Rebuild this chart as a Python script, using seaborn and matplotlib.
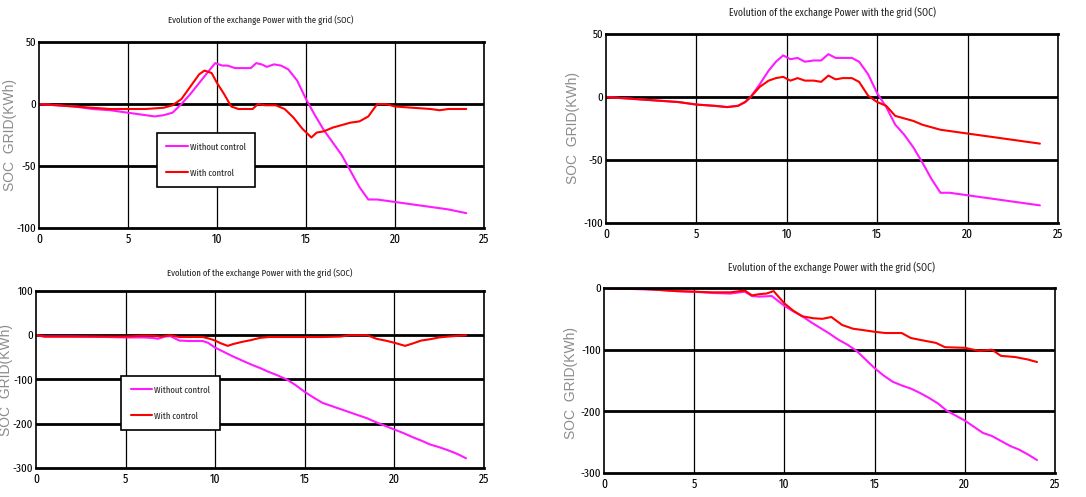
import numpy as np
import pandas as pd
import matplotlib
matplotlib.use("Agg")
import matplotlib.pyplot as plt
import seaborn as sns

# ---------------- data ----------------
title = "Evolution of the exchange Power with the grid (SOC)"
ylabel = "SOC  GRID(KWh)"
series_names = ["Without control", "With control"]

p1_without_t = [0, 1, 2, 3, 4, 5, 6, 6.5, 7, 7.5, 8, 8.5, 9, 9.5, 9.9, 10.3, 10.6, 11, 11.5, 11.9,
                12.2, 12.5, 12.8, 13.2, 13.6, 14, 14.5, 15, 15.5, 16, 16.5, 17, 17.5, 18, 18.5, 19,
                20, 21, 22, 23, 24]
p1_without_v = [0, -1, -2, -4, -5, -7, -9, -10, -9, -7, 0, 8, 17, 26, 33, 31, 31, 29, 29, 29,
                33, 32, 30, 32, 31, 28, 19, 4, -9, -21, -31, -41, -54, -67, -77, -77,
                -79, -81, -83, -85, -88]
p1_with_t = [0, 1, 2, 3, 4, 5, 6, 7, 7.5, 8, 8.5, 9, 9.3, 9.7, 10, 10.4, 10.8, 11.2, 12, 12.3,
             12.7, 13.3, 13.8, 14.3, 14.8, 15.3, 15.6, 16, 16.5, 17, 17.5, 18, 18.5, 19, 19.5, 20,
             21, 22, 22.5, 23, 24]
p1_with_v = [0, -1, -2, -3, -4, -4, -4, -3, -1, 4, 14, 24, 27, 25, 17, 8, -2, -4, -4, 0,
             -1, -1, -4, -11, -20, -27, -23, -22, -19, -17, -15, -14, -10, 0, 0, -2,
             -3, -4, -5, -4, -4]

p2_without_t = [0, 1, 2, 3, 4, 5, 6, 6.7, 7.3, 7.7, 8, 8.5, 9, 9.4, 9.8, 10.2, 10.6, 11, 11.5, 11.9,
                12.3, 12.7, 13.1, 13.6, 14, 14.5, 15, 15.5, 16, 16.5, 17, 17.5, 18, 18.5, 19, 20,
                21, 22, 23, 24]
p2_without_v = [0, -1, -2, -3, -4, -6, -7, -8, -7, -4, 0, 10, 21, 28, 33, 30, 31, 28, 29, 29,
                34, 31, 31, 31, 28, 18, 3, -8, -22, -30, -40, -52, -65, -76, -76, -78,
                -80, -82, -84, -86]
p2_with_t = [0, 1, 2, 3, 4, 5, 6, 6.7, 7.3, 7.7, 8, 8.5, 9, 9.4, 9.8, 10.2, 10.6, 11, 11.5, 11.9,
             12.3, 12.7, 13.1, 13.6, 14, 14.5, 15, 15.5, 16, 16.5, 17, 17.5, 18, 18.5, 19, 20,
             21, 22, 23, 24]
p2_with_v = [0, -1, -2, -3, -4, -6, -7, -8, -7, -4, 0, 8, 13, 15, 16, 13, 15, 13, 13, 12,
             17, 14, 15, 15, 12, 1, -4, -7, -15, -17, -19, -22, -24, -26, -27, -29,
             -31, -33, -35, -37]

p3_without_t = [0, 0.5, 2, 4, 5, 6, 6.5, 6.8, 7.2, 7.5, 8, 8.5, 9.3, 9.6, 10, 10.5, 11, 11.5, 12, 12.5,
                13, 13.5, 14, 14.5, 15, 15.5, 16, 16.5, 17, 17.5, 18, 18.5, 19, 19.5, 20, 20.5,
                21, 21.5, 22, 22.5, 23, 23.5, 24]
p3_without_v = [0, -3, -3, -4, -5, -5, -6, -8, -3, -2, -12, -13, -13, -17, -28, -38, -48, -57, -66, -74,
                -83, -91, -100, -113, -128, -141, -153, -160, -167, -174, -181, -188, -197, -205, -213, -221,
                -230, -238, -247, -253, -260, -268, -278]
p3_with_t = [0, 0.5, 2.5, 5, 6, 6.5, 7, 7.5, 8, 9.3, 9.7, 10, 10.3, 10.7, 11, 11.5, 12, 12.5, 13, 14,
             15, 16, 17, 17.5, 18.5, 19, 19.5, 20, 20.6, 21, 21.5, 22, 22.5, 23, 24]
p3_with_v = [0, -3, -3, -3, -1, -1, -3, 0, -4, -4, -8, -12, -18, -24, -20, -15, -11, -6, -4, -4,
             -4, -4, -3, 0, 0, -8, -12, -17, -24, -19, -12, -9, -5, -3, 0]

p4_without_t = [0, 1, 2, 3, 4, 5, 6, 7, 7.8, 8.2, 8.6, 9.3, 10, 10.5, 11, 11.5, 12, 12.5, 13, 13.5,
                14, 14.5, 15, 15.5, 16, 16.5, 17, 17.5, 18, 18.5, 19, 19.5, 20, 20.5, 21, 21.5,
                22, 22.5, 23, 23.5, 24]
p4_without_v = [0, -1, -2, -3, -5, -6, -8, -9, -6, -13, -14, -13, -29, -38, -46, -56, -65, -74, -84, -92,
                -102, -116, -130, -142, -152, -158, -163, -170, -178, -187, -199, -207, -215, -225, -235, -240,
                -248, -256, -262, -270, -279]
p4_with_t = [0, 1, 2, 3, 4, 5, 6, 7, 7.8, 8.2, 8.6, 9.0, 9.4, 10, 10.5, 11, 11.6, 12.1, 12.6, 13.2,
             13.8, 14.3, 15, 15.6, 16.5, 17, 17.5, 18.4, 18.9, 20, 20.8, 21.5, 22, 22.8, 23.5, 24]
p4_with_v = [0, -1, -1, -3, -5, -6, -7, -7, -4, -12, -10, -9, -5, -25, -37, -46, -49, -50, -47, -60,
             -66, -68, -71, -73, -73, -81, -84, -89, -96, -97, -102, -100, -110, -112, -116, -120]

x_ticks = [0, 5, 10, 15, 20, 25]
p1_yticks = [-100, -50, 0, 50]
p2_yticks = [-100, -50, 0, 50]
p3_yticks = [-300, -200, -100, 0, 100]
p4_yticks = [-300, -200, -100, 0]

# ---------------- style ----------------
sns.set_style("white")
NARROW = ["Fira Sans Extra Condensed", "Roboto Condensed", "Liberation Sans", "DejaVu Sans"]
plt.rcParams["font.family"] = NARROW
plt.rcParams["axes.unicode_minus"] = False

palette = {"Without control": "#ff1aff", "With control": "#ff0000"}


def make_df(wt, wv, ct, cv):
    a = pd.DataFrame({"t": wt, "v": wv, "series": series_names[0]})
    b = pd.DataFrame({"t": ct, "v": cv, "series": series_names[1]})
    return pd.concat([a, b], ignore_index=True)


panels = [
    (make_df(p1_without_t, p1_without_v, p1_with_t, p1_with_v), p1_yticks, [0.0359, 0.5412, 0.4098, 0.3742], (0.265, 0.511), 261, 20, 6.8),
    (make_df(p2_without_t, p2_without_v, p2_with_t, p2_with_v), p2_yticks, [0.5580, 0.5513, 0.4162, 0.3803], None, 832, 13, 7.6),
    (make_df(p3_without_t, p3_without_v, p3_with_t, p3_with_v), p3_yticks, [0.0331, 0.0584, 0.4125, 0.3561], (0.19, 0.52), 260, 273, 6.8),
    (make_df(p4_without_t, p4_without_v, p4_with_t, p4_with_v), p4_yticks, [0.5562, 0.0483, 0.4153, 0.3722], None, 831, 268, 7.6),
]
ylabel_pos = [(10, 135), (573, 128), (6, 380), (571, 383)]

W, H = 1086, 497
fig = plt.figure(figsize=(W / 100, H / 100), dpi=100)

for i, (df, yticks, rect, leg_anchor, tx, ty, tsize) in enumerate(panels):
    ax = fig.add_axes(rect)
    sns.lineplot(data=df, x="t", y="v", hue="series", hue_order=series_names,
                 palette=palette, estimator=None, sort=False, linewidth=1.5,
                 legend=leg_anchor is not None, ax=ax)
    ax.set_xlim(0, 25)
    ax.set_ylim(yticks[0], yticks[-1])
    ax.set_xticks(x_ticks)
    ax.set_yticks(yticks)
    ax.tick_params(length=0, labelsize=9, colors="black")
    ax.tick_params(axis="y", pad=2, labelsize=8.5)
    ax.tick_params(axis="x", pad=4)
    ax.set_xlabel("")
    ax.set_ylabel("")
    for xv in x_ticks[1:-1]:
        ax.axvline(xv, color="black", lw=0.9, zorder=0.5)
    for yv in yticks[1:-1]:
        ax.axhline(yv, color="black", lw=2.0, zorder=0.5)
    for side, sp in ax.spines.items():
        sp.set_visible(True)
        sp.set_color("black")
        sp.set_linewidth(2.0 if side in ("top", "bottom") else 1.2)
    if leg_anchor is not None:
        handles, labels = ax.get_legend_handles_labels()
        leg = ax.legend(handles, labels, loc="upper left", bbox_to_anchor=leg_anchor,
                        frameon=True, fancybox=False, framealpha=1, edgecolor="black",
                        fontsize=6.8, handlelength=2.3, labelspacing=1.8, borderpad=1.0,
                        handletextpad=0.2, borderaxespad=0)
        leg.get_frame().set_linewidth(1.2)
    fig.text(tx / W, 1 - ty / H, title, ha="center", va="center", fontsize=tsize)
    lx, ly = ylabel_pos[i]
    fig.text(lx / W, 1 - ly / H, ylabel, rotation=90, ha="center", va="center",
             fontsize=10, color="#8c8c8c", family=["Liberation Sans", "DejaVu Sans"])

fig.savefig("out.png", dpi=100, facecolor="white")
